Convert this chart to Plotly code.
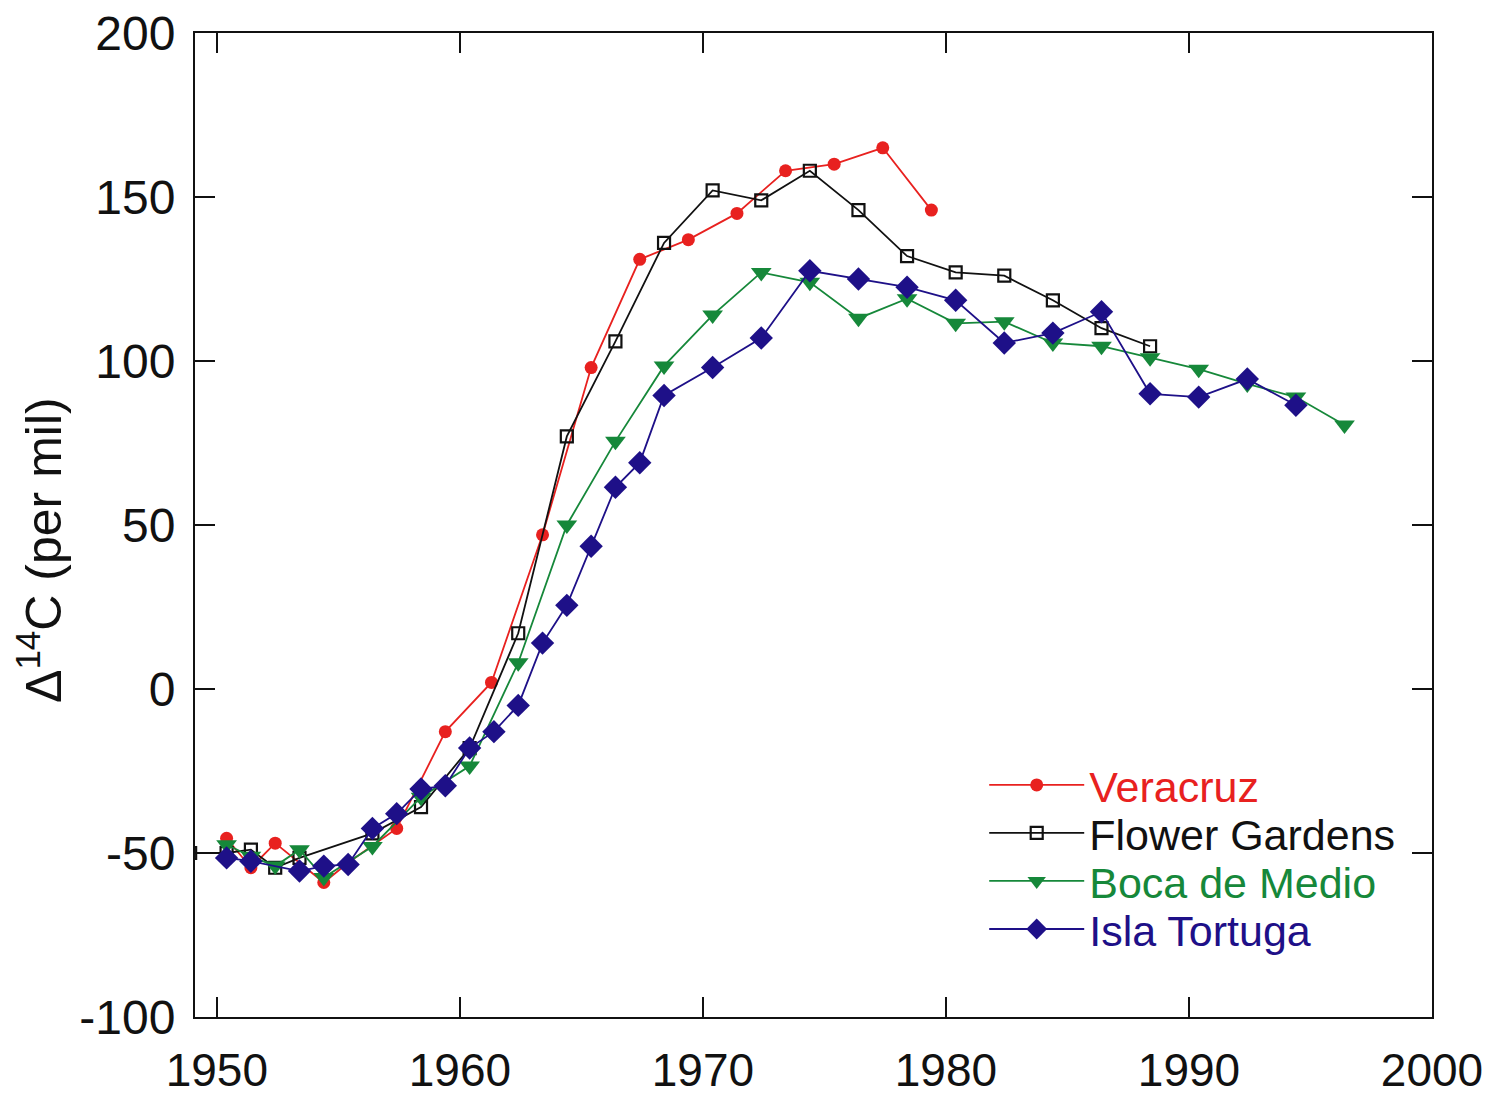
import plotly.graph_objects as go

# ---- data ----
ver_years = [1950.4, 1951.4, 1952.4, 1954.4, 1955.4, 1957.4, 1959.4, 1961.3, 1963.4, 1965.4,
             1967.4, 1969.4, 1971.4, 1973.4, 1975.4, 1977.4, 1979.4]
ver_vals = [-45.5, -54.5, -47, -59, -53, -42.5, -13, 2, 47, 98,
            131, 137, 145, 158, 160, 165, 146]

fg_years = [1948.9, 1950.4, 1951.4, 1952.4, 1953.4, 1956.4, 1958.4, 1960.4, 1962.4, 1964.4,
            1966.4, 1968.4, 1970.4, 1972.4, 1974.4, 1976.4, 1978.4, 1980.4, 1982.4, 1984.4,
            1986.4, 1988.4]
fg_vals = [-50, -50, -49, -54.5, -51.5, -44, -36, -18, 17, 77,
           106, 136, 152, 149, 158, 146, 132, 127, 126, 118.5,
           110, 104.5]

bm_years = [1950.4, 1951.4, 1952.4, 1953.4, 1954.4, 1956.4, 1958.4, 1960.4, 1962.4, 1964.4,
            1966.4, 1968.4, 1970.4, 1972.4, 1974.4, 1976.4, 1978.4, 1980.4, 1982.4, 1984.4,
            1986.4, 1988.4, 1990.4, 1992.4, 1994.4, 1996.4]
bm_vals = [-47.5, -51, -54, -49, -57.5, -48, -33, -23.5, 8, 50,
           75.5, 98.5, 114, 127, 124, 113, 119, 111.5, 112, 105.5,
           104.5, 101, 97.5, 93, 89, 80.5]

it_years = [1950.4, 1951.4, 1953.4, 1954.4, 1955.4, 1956.4, 1957.4, 1958.4, 1959.4, 1960.4,
            1961.4, 1962.4, 1963.4, 1964.4, 1965.4, 1966.4, 1967.4, 1968.4, 1970.4, 1972.4,
            1974.4, 1976.4, 1978.4, 1980.4, 1982.4, 1984.4, 1986.4, 1988.4, 1990.4, 1992.4,
            1994.4]
it_vals = [-51.5, -52.5, -55.5, -54, -53.5, -42.5, -38, -30.5, -29.5, -18,
           -13, -5, 14, 25.5, 43.5, 61.5, 69, 89.5, 98, 107,
           127.5, 125, 122.5, 118.5, 105.5, 108.5, 115, 90, 89, 94.5,
           86.5]

x_ticks = [1950, 1960, 1970, 1980, 1990, 2000]
y_ticks = [-100, -50, 0, 50, 100, 150, 200]

RED = "#e8211f"
BLACK = "#111111"
GREEN = "#16883a"
BLUE = "#1e1088"

fig = go.Figure()
fig.add_trace(go.Scatter(
    x=ver_years, y=ver_vals, mode="lines+markers", legend="legend",
    name=f"<span style='color:{RED}'>Veracruz</span>",
    line=dict(color=RED, width=1.8),
    marker=dict(symbol="circle", size=13, color=RED)))
fig.add_trace(go.Scatter(
    x=fg_years, y=fg_vals, mode="lines+markers", legend="legend2",
    name=f"<span style='color:{BLACK}'>Flower Gardens</span>",
    line=dict(color=BLACK, width=1.8),
    marker=dict(symbol="square-open", size=12, color=BLACK, line=dict(width=2.2))))
fig.add_trace(go.Scatter(
    x=bm_years, y=bm_vals, mode="lines+markers", legend="legend3",
    name=f"<span style='color:{GREEN}'>Boca de Medio</span>",
    line=dict(color=GREEN, width=1.8),
    marker=dict(symbol="triangle-down", size=18, color=GREEN)))
fig.add_trace(go.Scatter(
    x=it_years, y=it_vals, mode="lines+markers", legend="legend4",
    name=f"<span style='color:{BLUE}'>Isla Tortuga</span>",
    line=dict(color=BLUE, width=1.8),
    marker=dict(symbol="diamond", size=18, color=BLUE)))

def leg(y):
    return dict(x=0.638, y=y, xanchor="left", yanchor="middle",
                bgcolor="rgba(0,0,0,0)", font=dict(size=43),
                itemwidth=95, tracegroupgap=0)

fig.update_layout(
    width=1496, height=1095,
    margin=dict(l=195, r=64, t=33, b=78),
    paper_bgcolor="white", plot_bgcolor="white",
    font=dict(family="Liberation Sans, Arial, sans-serif", color="#111111"),
    showlegend=True,
    legend=leg(0.2358), legend2=leg(0.187), legend3=leg(0.1382), legend4=leg(0.0894),
    annotations=[dict(
        text="Δ<sup>14</sup>C (per mil)", textangle=-90,
        xref="paper", yref="paper", x=0, y=0.5, xanchor="center", yanchor="middle",
        xshift=-155, yshift=-25, showarrow=False,
        font=dict(size=50, color="#111111"))],
)
fig.update_xaxes(
    range=[1949.1, 2000], tickvals=x_ticks, ticktext=[str(v) for v in x_ticks],
    ticks="inside", ticklen=20, tickwidth=1.5, tickcolor="#111111",
    showline=True, linecolor="#111111", linewidth=2, mirror="allticks",
    showgrid=False, zeroline=False, automargin=False,
    tickfont=dict(size=46),
    ticklabelstandoff=12)
fig.update_yaxes(
    range=[-100, 200], tickvals=y_ticks, ticktext=[str(v) for v in y_ticks],
    ticks="inside", ticklen=20, tickwidth=1.5, tickcolor="#111111",
    showline=True, linecolor="#111111", linewidth=2, mirror="allticks",
    showgrid=False, zeroline=False, automargin=False,
    tickfont=dict(size=48),
    ticklabelstandoff=8)

fig.write_html("out.html")
